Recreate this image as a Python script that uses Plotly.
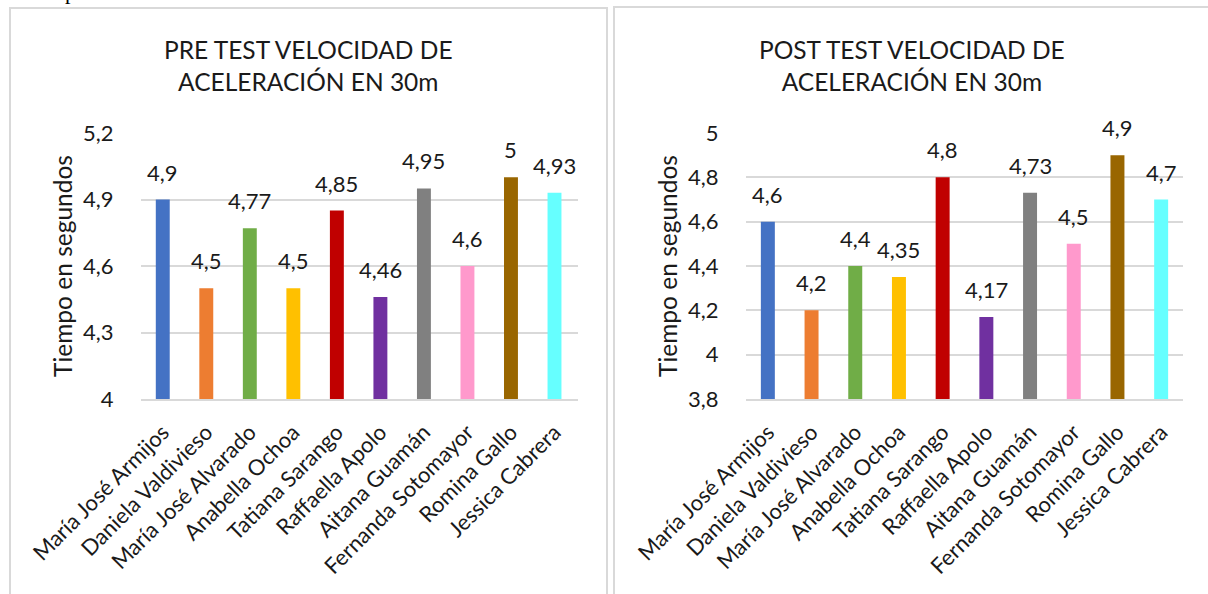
import plotly.graph_objects as go

W, H = 1208, 594

names = ["María José Armijos", "Daniela Valdivieso", "María José Alvarado",
         "Anabella Ochoa", "Tatiana Sarango", "Raffaella Apolo", "Aitana Guamán",
         "Fernanda Sotomayor", "Romina Gallo", "Jessica Cabrera"]
pre_values = [4.9, 4.5, 4.77, 4.5, 4.85, 4.46, 4.95, 4.6, 5.0, 4.93]
post_values = [4.6, 4.2, 4.4, 4.35, 4.8, 4.17, 4.73, 4.5, 4.9, 4.7]
colors = ["#4472C4", "#ED7D31", "#70AD47", "#FFC000", "#C00000",
          "#7030A0", "#808080", "#FF99CC", "#996600", "#66FFFF"]
pre_ticks = [4.0, 4.3, 4.6, 4.9, 5.2]
pre_ticktext = ["4", "4,3", "4,6", "4,9", "5,2"]
post_ticks = [3.8, 4.0, 4.2, 4.4, 4.6, 4.8, 5.0]
post_ticktext = ["3,8", "4", "4,2", "4,4", "4,6", "4,8", "5"]
pre_title = "PRE TEST VELOCIDAD DE<br>ACELERACIÓN EN 30m"
post_title = "POST TEST VELOCIDAD DE<br>ACELERACIÓN EN 30m"
y_title = "Tiempo en segundos"

FONT = "Lato"
TXT = "#1a1a1a"

def fmt(v):
    return ("%g" % v).replace(".", ",")

fig = go.Figure()
fig.add_trace(go.Bar(x=names, y=pre_values, marker_color=colors, xaxis="x", yaxis="y",
                     marker_line_width=0, showlegend=False, hoverinfo="x+y"))
fig.add_trace(go.Bar(x=names, y=post_values, marker_color=colors, xaxis="x2", yaxis="y2",
                     marker_line_width=0, showlegend=False, hoverinfo="x+y"))

def px_x(p):
    return p / W

def px_y(p):
    return 1 - p / H

lab_font = dict(family=FONT, size=22, color=TXT)
annotations = []
for n, v in zip(names, pre_values):
    annotations.append(dict(x=n, y=v, xref="x", yref="y", text=fmt(v), showarrow=False,
                            yanchor="bottom", yshift=12, font=lab_font))
for n, v in zip(names, post_values):
    annotations.append(dict(x=n, y=v, xref="x2", yref="y2", text=fmt(v), showarrow=False,
                            yanchor="bottom", yshift=12, font=lab_font))

title_font = dict(family=FONT, size=24.5, color=TXT)
annotations.append(dict(x=px_x(308), y=px_y(65), xref="paper", yref="paper", text=pre_title,
                        showarrow=False, xanchor="center", yanchor="middle", font=title_font))
annotations.append(dict(x=px_x(912), y=px_y(65), xref="paper", yref="paper", text=post_title,
                        showarrow=False, xanchor="center", yanchor="middle", font=title_font))
ytf = dict(family=FONT, size=24.5, color=TXT)
annotations.append(dict(x=px_x(62), y=px_y(266), xref="paper", yref="paper", text=y_title,
                        showarrow=False, textangle=-90, xanchor="center", yanchor="middle",
                        font=ytf))
annotations.append(dict(x=px_x(667), y=px_y(266), xref="paper", yref="paper", text=y_title,
                        showarrow=False, textangle=-90, xanchor="center", yanchor="middle",
                        font=ytf))
# cut-off document text at the very top
annotations.append(dict(x=px_x(70), y=px_y(6), xref="paper", yref="paper", text="p",
                        showarrow=False, xanchor="center", yanchor="bottom",
                        font=dict(family="Liberation Serif", size=22, color="#000000")))

GRID = "#d9d9d9"
tickfont = dict(family=FONT, size=22, color=TXT)
xfont = dict(family=FONT, size=22, color=TXT)

common_y = dict(showgrid=True, gridcolor=GRID, gridwidth=1.5, zeroline=False, showline=False,
                ticks="outside", ticklen=22, tickcolor="rgba(0,0,0,0)", tickfont=tickfont,
                fixedrange=True, automargin=False)
common_x = dict(showgrid=False, showline=True, linecolor=GRID, linewidth=1.5,
                ticks="outside", ticklen=10, tickcolor="rgba(0,0,0,0)",
                tickangle=-45, tickfont=xfont, fixedrange=True, automargin=False)

fig.update_layout(
    width=W, height=H,
    margin=dict(l=0, r=0, t=0, b=0, autoexpand=False),
    paper_bgcolor="white", plot_bgcolor="white",
    bargap=0.68,
    xaxis=dict(domain=[px_x(141), px_x(578)], anchor="y", **common_x),
    yaxis=dict(domain=[px_y(399), px_y(133)], anchor="x", range=[4.0, 5.2],
               tickvals=pre_ticks, ticktext=pre_ticktext, **common_y),
    xaxis2=dict(domain=[px_x(746), px_x(1183)], anchor="y2", **common_x),
    yaxis2=dict(domain=[px_y(399), px_y(133)], anchor="x2", range=[3.8, 5.0],
                tickvals=post_ticks, ticktext=post_ticktext, **common_y),
    annotations=annotations,
    shapes=[
        dict(type="rect", xref="paper", yref="paper", x0=px_x(10), x1=px_x(607),
             y0=px_y(8), y1=px_y(620), line=dict(color=GRID, width=2), layer="below"),
        dict(type="rect", xref="paper", yref="paper", x0=px_x(614), x1=px_x(1230),
             y0=px_y(7), y1=px_y(620), line=dict(color=GRID, width=2), layer="below"),
    ],
)

fig.write_html("out.html")
